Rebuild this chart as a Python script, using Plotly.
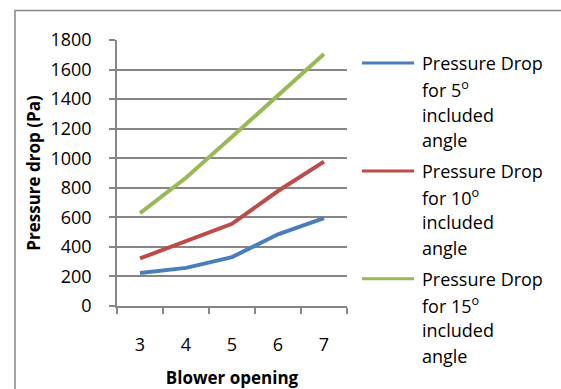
import plotly.graph_objects as go

# Blower opening settings and measured pressure drop (Pa)
blower_opening = ["3", "4", "5", "6", "7"]
drop_5deg = [224, 258, 331, 485, 595]
drop_10deg = [322, 440, 556, 778, 977]
drop_15deg = [628, 868, 1145, 1425, 1706]

series_names = [
    ["Pressure Drop", "for 5<sup>o</sup>", "included", "angle"],
    ["Pressure Drop", "for 10<sup>o</sup>", "included", "angle"],
    ["Pressure Drop", "for 15<sup>o</sup>", "included", "angle"],
]
series_values = [drop_5deg, drop_10deg, drop_15deg]
series_colors = ["#4A7EBB", "#BE4B48", "#98B954"]

y_ticks = list(range(0, 1801, 200))

W, H = 561, 389
L, R, T, B = 117, 214, 39.5, 83.3
PW, PH = W - L - R, H - T - B
FONT = "Open Sans"
GRAY = "#868686"


def px_x(x):
    return (x - L) / PW


def px_y(y):
    return (H - B - y) / PH


fig = go.Figure()
for vals, col in zip(series_values, series_colors):
    fig.add_trace(go.Scatter(
        x=blower_opening, y=vals, mode="lines",
        line=dict(color=col, width=4), showlegend=False,
        hoverinfo="skip",
    ))

shapes = []
annotations = []

# outer chart frame (top and left edges visible)
shapes.append(dict(type="rect", xref="paper", yref="paper",
                   x0=px_x(15), x1=px_x(W + 20), y0=px_y(H + 20), y1=px_y(10),
                   line=dict(color=GRAY, width=1.5), fillcolor="rgba(0,0,0,0)",
                   layer="below"))

# legend: coloured line + wrapped label
legend_first_y = [62.5, 170.5, 278.5]
line_gap = 25.8
for names, col, y0 in zip(series_names, series_colors, legend_first_y):
    shapes.append(dict(type="line", xref="paper", yref="paper",
                       x0=px_x(362), x1=px_x(414), y0=px_y(y0), y1=px_y(y0),
                       line=dict(color=col, width=3)))
    for i, txt in enumerate(names):
        annotations.append(dict(
            xref="paper", yref="paper", x=px_x(420), y=px_y(y0 + i * line_gap),
            xanchor="left", yanchor="middle", showarrow=False, text=txt,
            font=dict(family=FONT, size=18, color="#000000")))

fig.update_layout(
    width=W, height=H,
    margin=dict(l=L, r=R, t=T, b=B, autoexpand=False),
    paper_bgcolor="white", plot_bgcolor="white",
    font=dict(family=FONT, size=18, color="#000000"),
    shapes=shapes, annotations=annotations,
    xaxis=dict(
        type="category", range=[-0.5, 4.5], tickson="boundaries",
        ticks="outside", ticklen=6, tickcolor=GRAY, tickwidth=1.5,
        showline=True, linecolor=GRAY, linewidth=1.5, showgrid=False,
        ticklabelstandoff=22, automargin=False,
        title=dict(text="<b>Blower opening</b>", standoff=18,
                   font=dict(family=FONT, size=17)),
        fixedrange=True,
    ),
    yaxis=dict(
        range=[0, 1800], tickvals=y_ticks,
        ticks="outside", ticklen=6, tickcolor=GRAY, tickwidth=1.5,
        showline=True, linecolor=GRAY, linewidth=1.5,
        showgrid=True, gridcolor=GRAY, gridwidth=1.5, zeroline=False,
        ticklabelstandoff=14, automargin=False,
        title=dict(text="<b>Pressure drop (Pa)</b>", standoff=6,
                   font=dict(family=FONT, size=17)),
        fixedrange=True,
    ),
)

fig.write_html("out.html")
